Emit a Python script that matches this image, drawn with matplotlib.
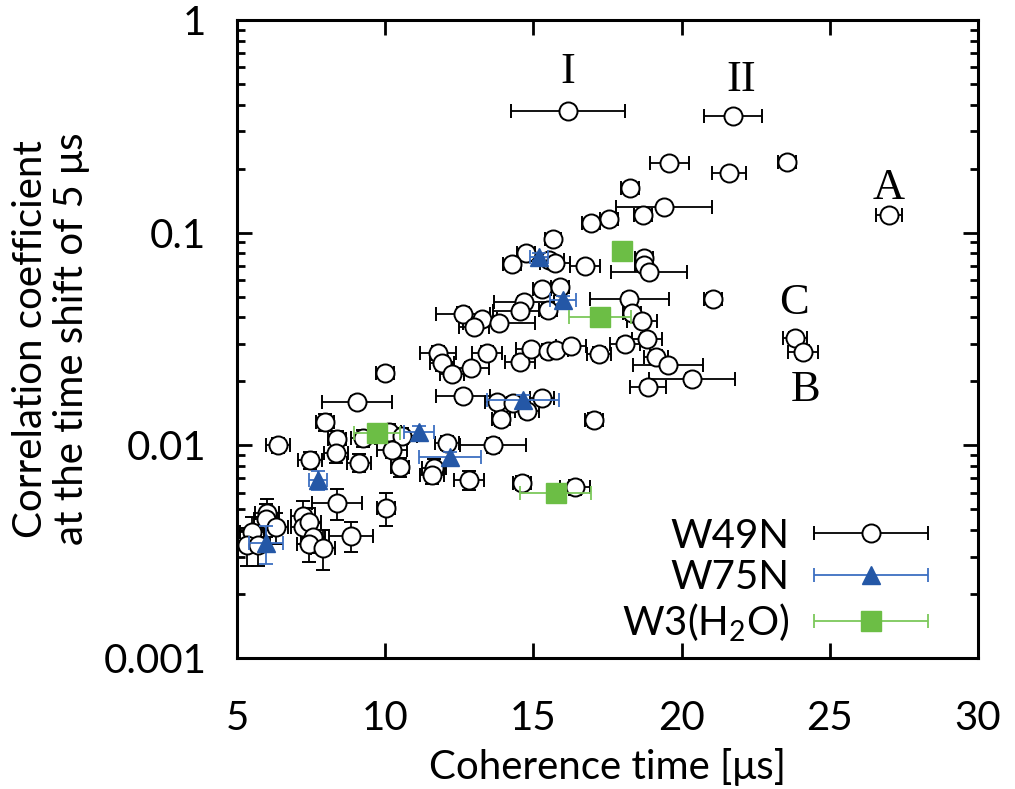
import matplotlib
matplotlib.use('Agg')
import matplotlib.pyplot as plt
from matplotlib.container import ErrorbarContainer
from matplotlib.legend_handler import HandlerErrorbar
from matplotlib.ticker import LogLocator, NullFormatter, FixedLocator

plt.rcParams['font.family'] = ['Lato', 'DejaVu Sans']
plt.rcParams['mathtext.fontset'] = 'custom'
plt.rcParams['mathtext.rm'] = 'Lato'

# W49N: coherence time [us], correlation coefficient, errors
w49_x = [16.17, 21.73, 19.58, 23.56, 21.60, 18.26, 19.41, 18.70, 17.55, 16.94,
         15.66, 27.00, 14.75, 14.28, 15.53, 15.73, 16.74, 18.73, 18.73, 18.90,
         18.23, 21.06, 15.29, 15.90, 14.68, 14.55, 15.49, 18.33, 18.66, 12.62,
         13.27, 13.00, 13.84, 11.78, 11.92, 12.25, 12.89, 13.43, 14.55, 14.92,
         15.49, 15.76, 16.27, 17.21, 18.09, 18.83, 19.14, 19.54, 20.35, 18.87,
         12.62, 13.77, 14.31, 15.29, 14.78, 13.91, 17.04, 9.05, 10.00, 7.97,
         8.37, 9.25, 6.38, 12.08, 13.64, 10.13, 10.57, 8.34, 7.46, 9.12,
         10.23, 10.50, 11.65, 11.58, 12.83, 8.37, 10.03, 14.62, 16.40, 6.01,
         5.98, 6.32, 5.51, 5.34, 5.71, 7.23, 7.23, 7.43, 7.56, 7.43,
         7.90, 8.85, 23.83, 24.10]
w49_y = [0.373, 0.354, 0.213, 0.215, 0.191, 0.162, 0.132, 0.121, 0.116, 0.111,
         0.0934, 0.121, 0.0803, 0.0713, 0.0744, 0.0721, 0.0697, 0.0760, 0.0705, 0.0654,
         0.0488, 0.0488, 0.0544, 0.0556, 0.0472, 0.0428, 0.0433, 0.0419, 0.0384, 0.0415,
         0.0393, 0.0360, 0.0376, 0.0272, 0.0244, 0.0217, 0.0231, 0.0272, 0.0247, 0.0284,
         0.0278, 0.0281, 0.0293, 0.0269, 0.0300, 0.0316, 0.0260, 0.0239, 0.0205, 0.0188,
         0.0171, 0.0160, 0.0158, 0.0167, 0.0145, 0.0133, 0.0132, 0.0160, 0.0219, 0.0129,
         0.0107, 0.0108, 0.0100, 0.0103, 0.0100, 0.0116, 0.0111, 0.0092, 0.00854, 0.00826,
         0.0095, 0.0079, 0.00783, 0.00726, 0.00688, 0.00536, 0.00508, 0.00666, 0.00637, 0.00481,
         0.00451, 0.00413, 0.00392, 0.00340, 0.00340, 0.00466, 0.00413, 0.00436, 0.00371, 0.00344,
         0.00330, 0.00375, 0.0320, 0.0275]
w49_xerr = [1.92, 0.98, 0.66, 0.30, 0.58, 0.30, 1.62, 0.30, 0.30, 0.30,
            0.27, 0.43, 0.30, 0.30, 0.50, 0.50, 0.50, 0.30, 0.30, 1.27,
            1.33, 0.30, 0.30, 0.30, 1.00, 0.90, 0.30, 0.30, 0.50, 0.90,
            0.50, 0.50, 1.20, 0.60, 0.40, 0.40, 0.60, 0.50, 0.50, 0.50,
            0.40, 0.40, 0.50, 0.40, 0.50, 0.50, 0.40, 1.18, 1.45, 0.60,
            0.90, 0.40, 0.40, 0.40, 0.40, 0.30, 0.30, 1.18, 0.30, 0.30,
            0.30, 0.40, 0.40, 0.40, 1.10, 0.40, 0.50, 0.40, 0.40, 0.40,
            0.50, 0.30, 0.40, 0.40, 0.50, 0.85, 0.30, 0.30, 0.50, 0.40,
            0.40, 0.40, 0.40, 0.30, 0.40, 0.40, 0.40, 0.40, 0.40, 0.40,
            0.40, 0.75, 0.40, 0.50]
w49_yerr = [0.02, 0.02, 0.01, 0.01, 0.01, 0.008, 0.007, 0.006, 0.006, 0.006,
            0.005, 0.006, 0.004, 0.004, 0.004, 0.004, 0.004, 0.004, 0.004, 0.004,
            0.003, 0.003, 0.003, 0.003, 0.003, 0.003, 0.003, 0.003, 0.002, 0.003,
            0.002, 0.002, 0.002, 0.002, 0.002, 0.0015, 0.0015, 0.002, 0.0015, 0.002,
            0.002, 0.002, 0.002, 0.002, 0.002, 0.002, 0.002, 0.0015, 0.0015, 0.0012,
            0.0012, 0.001, 0.001, 0.001, 0.001, 0.001, 0.001, 0.001, 0.0012, 0.0012,
            0.001, 0.001, 0.0008, 0.0008, 0.0008, 0.001, 0.001, 0.0009, 0.0008, 0.0008,
            0.0008, 0.0008, 0.0008, 0.0007, 0.0007, 0.0009, 0.0009, 0.0005, 0.0005, 0.0008,
            0.0008, 0.0007, 0.0007, 0.0007, 0.0007, 0.0008, 0.0007, 0.0007, 0.0006, 0.0006,
            0.0007, 0.0006, 0.002, 0.002]

# W75N
w75_x = [15.19, 16.00, 14.65, 11.14, 12.19, 7.73, 5.98]
w75_y = [0.0769, 0.0483, 0.0163, 0.0116, 0.0088, 0.00688, 0.00348]
w75_xerr = [0.30, 0.45, 1.20, 0.50, 1.05, 0.30, 0.57]
w75_yerr = [0.003, 0.002, 0.001, 0.0007, 0.0005, 0.0007, 0.0007]

# W3(H2O)
w3_x = [17.99, 17.25, 9.72, 15.76]
w3_y = [0.082, 0.0402, 0.0114, 0.0060]
w3_xerr = [0.30, 1.05, 0.78, 1.20]
w3_yerr = [0.003, 0.002, 0.0006, 0.0004]

# labels of individual events
ann_text = ['I', 'II', 'A', 'C', 'B']
ann_x = [16.17, 22.0, 27.0, 23.79, 24.2]
ann_y = [0.569, 0.522, 0.162, 0.0468, 0.0183]

names = ['W49N', 'W75N', 'W3(H$_2$O)']

fig = plt.figure(figsize=(10.15, 7.89), dpi=100)
ax = fig.add_axes([0.2335, 0.166, 0.73, 0.8087])

fs = 29
ekw = dict(capsize=5, elinewidth=1.3, capthick=1.3)
s1 = dict(fmt='o', ms=13, mfc='white', mec='black', mew=1.4, ecolor='black', color='black')
s2 = dict(fmt='^', ms=13, mfc='#2457a6', mec='#2457a6', ecolor='#3d6fc2', color='#2457a6')
s3 = dict(fmt='s', ms=14, mfc='#6cbe45', mec='#6cbe45', ecolor='#7cc85a', color='#6cbe45')

ax.errorbar(w49_x, w49_y, xerr=w49_xerr, yerr=w49_yerr, zorder=2, **s1, **ekw)
ax.errorbar(w75_x, w75_y, xerr=w75_xerr, yerr=w75_yerr, zorder=3, **s2, **ekw)
ax.errorbar(w3_x, w3_y, xerr=w3_xerr, yerr=w3_yerr, zorder=4, **s3, **ekw)

# legend entries carry only the horizontal bar (invisible proxy points)
handles = [ax.errorbar([float('nan')], [float('nan')], xerr=[1.0], label=n, **s, **ekw)
           for n, s in zip(names, [s1, s2, s3])]

for t, xx, yy in zip(ann_text, ann_x, ann_y):
    ax.text(xx, yy, t, family='Liberation Serif', fontsize=32, ha='center', va='center')

ax.set_yscale('log')
ax.set_xlim(5, 30)
ax.set_ylim(0.001, 1)
ax.xaxis.set_major_locator(FixedLocator([5, 10, 15, 20, 25, 30]))
ax.set_xticklabels(['5', '10', '15', '20', '25', '30'])
ax.set_yticks([0.001, 0.01, 0.1, 1])
ax.set_yticklabels(['0.001', '0.01', '0.1', '1'])
ax.yaxis.set_minor_locator(LogLocator(base=10, subs=range(2, 10)))
ax.yaxis.set_minor_formatter(NullFormatter())

ax.tick_params(which='major', direction='in', length=11, width=2, top=True, right=True,
               labelsize=fs)
ax.tick_params(which='minor', direction='in', length=6, width=2, right=True)
ax.tick_params(axis='x', pad=30)
ax.tick_params(axis='y', pad=22)
for s in ax.spines.values():
    s.set_linewidth(2.2)

ax.set_xlabel('Coherence time [μs]', fontsize=fs, labelpad=8)
ax.set_ylabel('Correlation coefficient\nat the time shift of 5 μs', fontsize=fs,
              labelpad=10, linespacing=1.12)

ax.legend(handles=handles, loc='lower right', frameon=False, fontsize=fs,
          markerfirst=False, handlelength=2.85, handletextpad=0.6,
          labelspacing=0.12, borderaxespad=0.0, bbox_to_anchor=(0.955, -0.003),
          handler_map={ErrorbarContainer: HandlerErrorbar(xerr_size=1.42)})

fig.savefig('out.png', dpi=100)
